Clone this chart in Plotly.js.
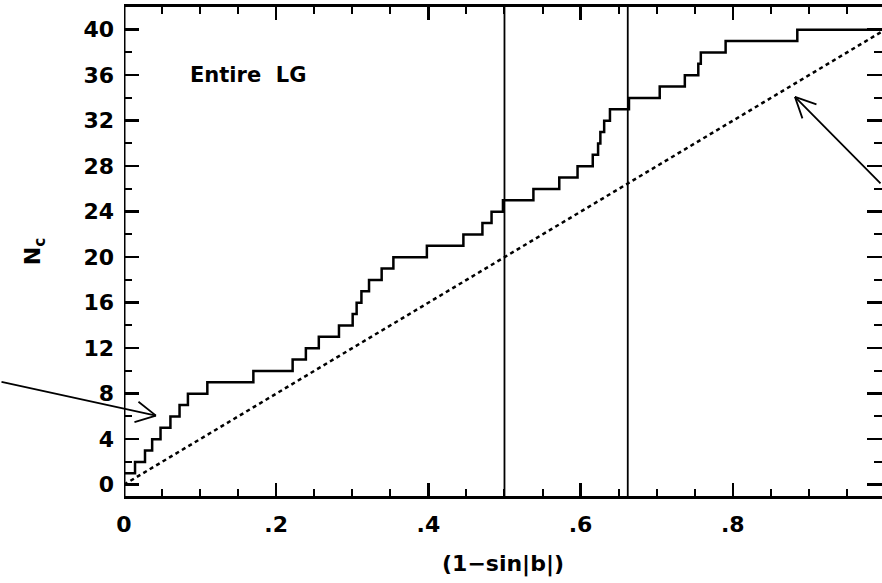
<!DOCTYPE html>
<html>
<head>
<meta charset="utf-8">
<script src="https://cdn.plot.ly/plotly-3.0.1.min.js"></script>
<style>html,body{margin:0;padding:0;background:#fff;}#chart{width:882px;height:583px;}</style>
</head>
<body>
<div id="chart"></div>
<script>
// cumulative count N_c versus (1 - sin|b|)
var stepX = [0, 0.0145, 0.0276, 0.037, 0.048, 0.061, 0.073, 0.084, 0.1095, 0.170,
             0.2216, 0.239, 0.256, 0.2825, 0.3005, 0.3057, 0.312, 0.322, 0.3386, 0.354,
             0.398, 0.446, 0.471, 0.483, 0.498, 0.538, 0.572, 0.596, 0.616, 0.623,
             0.626, 0.631, 0.6386, 0.6636, 0.704, 0.737, 0.7547, 0.758, 0.7906, 0.8848, 1.0];
var stepN = [1, 2, 3, 4, 5, 6, 7, 8, 9, 10,
             11, 12, 13, 14, 15, 16, 17, 18, 19, 20,
             21, 22, 23, 24, 25, 26, 27, 28, 29, 30,
             31, 32, 33, 34, 35, 36, 37, 38, 39, 40, 40];
// uniform expectation
var uniformX = [0, 1];
var uniformN = [0, 40];
// vertical boundary markers
var boundaryX = [0.5, 0.662];
// x tick labels
var xTickVals = [0, 0.2, 0.4, 0.6, 0.8, 1.0];
var xTickText = ['0', '.2', '.4', '.6', '.8', '1'];
var panelLabel = 'Entire\u00a0\u00a0LG';

var FONT = 'DejaVu Sans, Arial, sans-serif';
var F = {family: FONT, size: 22, color: '#000', weight: 'bold'};

var traces = [
  {x: stepX, y: stepN, type: 'scatter', mode: 'lines',
   line: {shape: 'hv', color: '#000', width: 2.5}, hoverinfo: 'skip'},
  {x: uniformX, y: uniformN, type: 'scatter', mode: 'lines',
   line: {color: '#000', width: 2.5, dash: '4px,3.5px'}, hoverinfo: 'skip'}
];

var shapes = boundaryX.map(function (bx) {
  return {type: 'line', xref: 'x', yref: 'paper', x0: bx, x1: bx, y0: 0, y1: 1,
          line: {color: '#000', width: 1.8}};
});
shapes.push({type: 'line', xref: 'x', yref: 'paper', x0: 0, x1: 0, y0: 0, y1: 1,
             line: {color: '#000', width: 3}});

function arrowLine(x, y, ax, ay) {
  return {x: x, y: y, xref: 'x', yref: 'y', ax: ax, ay: ay, axref: 'pixel', ayref: 'pixel',
          text: '', showarrow: true, arrowhead: 0, arrowwidth: 1.8, arrowcolor: '#000',
          standoff: 0, startstandoff: 0};
}

var annotations = [
  {x: 0.084, y: 36, xref: 'x', yref: 'y', xanchor: 'left', yanchor: 'middle',
   text: panelLabel, showarrow: false, font: {family: FONT, size: 21, color: '#000', weight: 'bold'}},
  // left arrow
  arrowLine(0.042, 6.07, -156, -34),
  arrowLine(0.042, 6.07, -19, -15),
  arrowLine(0.042, 6.07, -23, 7),
  // right arrow
  arrowLine(0.8817, 34.1, 88, 88),
  arrowLine(0.8817, 34.1, 23, 8),
  arrowLine(0.8817, 34.1, 8, 23)
];

var layout = {
  width: 882, height: 583,
  margin: {l: 124, r: 0, t: 7, b: 87, pad: 0},
  paper_bgcolor: '#fff', plot_bgcolor: '#fff',
  showlegend: false,
  font: F,
  xaxis: {
    range: [0, 0.9961], showgrid: false, zeroline: false,
    showline: true, linewidth: 3, linecolor: '#000', mirror: 'ticks',
    ticks: 'inside', ticklen: 13, tickwidth: 2.5, tickcolor: '#000',
    tickvals: xTickVals, ticktext: xTickText, ticklabelstandoff: 7,
    minor: {dtick: 0.05, tick0: 0, ticks: 'inside', ticklen: 7, tickwidth: 2, tickcolor: '#000', showgrid: false},
    tickfont: F,
    title: {text: '(1\u2212sin|b|)', standoff: 20, font: F}
  },
  yaxis: {
    range: [-1, 42], showgrid: false, zeroline: false,
    showline: false, mirror: 'ticks',
    ticks: 'inside', ticklen: 15, tickwidth: 2.5, tickcolor: '#000',
    tick0: 0, dtick: 4, ticklabelstandoff: 9,
    minor: {dtick: 2, tick0: 0, ticks: 'inside', ticklen: 8, tickwidth: 2, tickcolor: '#000', showgrid: false},
    tickfont: F,
    title: {text: 'N<sub>c</sub>', standoff: 36, font: F}
  },
  shapes: shapes,
  annotations: annotations
};

Plotly.newPlot('chart', traces, layout, {staticPlot: true, displayModeBar: false});
</script>
</body>
</html>
